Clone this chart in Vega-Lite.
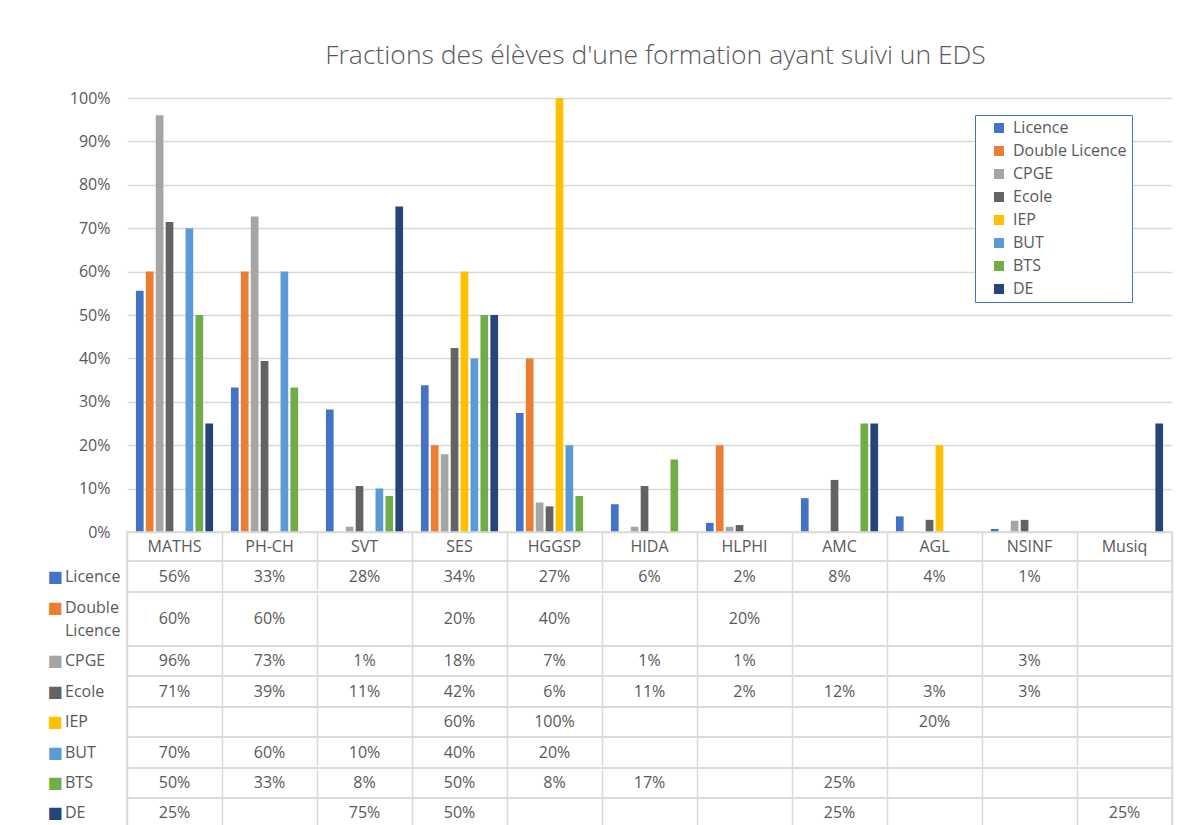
{
  "$schema": "https://vega.github.io/schema/vega-lite/v6.json",
  "padding": {"left": 42, "top": 42, "right": 10, "bottom": 0},
  "columns": 2,
  "spacing": 0,
  "bounds": "flush",
  "resolve": {"legend": {"color": "independent"}},
  "config": {
    "font": "Open Sans",
    "view": {"stroke": "#D9D9D9", "strokeWidth": 1.5},
    "text": {"fontSize": 16, "color": "#595959", "font": "Open Sans"},
    "axis": {"labelFont": "Open Sans", "labelFontSize": 16, "labelColor": "#595959"}
  },
  "datasets": {
    "d": [
      {"cat": "MATHS", "series": "Licence", "value": 0.556},
      {"cat": "MATHS", "series": "Double Licence", "value": 0.60},
      {"cat": "MATHS", "series": "CPGE", "value": 0.96},
      {"cat": "MATHS", "series": "Ecole", "value": 0.714},
      {"cat": "MATHS", "series": "BUT", "value": 0.70},
      {"cat": "MATHS", "series": "BTS", "value": 0.50},
      {"cat": "MATHS", "series": "DE", "value": 0.25},
      {"cat": "PH-CH", "series": "Licence", "value": 0.333},
      {"cat": "PH-CH", "series": "Double Licence", "value": 0.60},
      {"cat": "PH-CH", "series": "CPGE", "value": 0.727},
      {"cat": "PH-CH", "series": "Ecole", "value": 0.394},
      {"cat": "PH-CH", "series": "BUT", "value": 0.60},
      {"cat": "PH-CH", "series": "BTS", "value": 0.333},
      {"cat": "SVT", "series": "Licence", "value": 0.282},
      {"cat": "SVT", "series": "CPGE", "value": 0.012},
      {"cat": "SVT", "series": "Ecole", "value": 0.106},
      {"cat": "SVT", "series": "BUT", "value": 0.10},
      {"cat": "SVT", "series": "BTS", "value": 0.083},
      {"cat": "SVT", "series": "DE", "value": 0.75},
      {"cat": "SES", "series": "Licence", "value": 0.338},
      {"cat": "SES", "series": "Double Licence", "value": 0.20},
      {"cat": "SES", "series": "CPGE", "value": 0.179},
      {"cat": "SES", "series": "Ecole", "value": 0.424},
      {"cat": "SES", "series": "IEP", "value": 0.60},
      {"cat": "SES", "series": "BUT", "value": 0.40},
      {"cat": "SES", "series": "BTS", "value": 0.50},
      {"cat": "SES", "series": "DE", "value": 0.50},
      {"cat": "HGGSP", "series": "Licence", "value": 0.274},
      {"cat": "HGGSP", "series": "Double Licence", "value": 0.40},
      {"cat": "HGGSP", "series": "CPGE", "value": 0.068},
      {"cat": "HGGSP", "series": "Ecole", "value": 0.059},
      {"cat": "HGGSP", "series": "IEP", "value": 1.0},
      {"cat": "HGGSP", "series": "BUT", "value": 0.20},
      {"cat": "HGGSP", "series": "BTS", "value": 0.083},
      {"cat": "HIDA", "series": "Licence", "value": 0.064},
      {"cat": "HIDA", "series": "CPGE", "value": 0.012},
      {"cat": "HIDA", "series": "Ecole", "value": 0.106},
      {"cat": "HIDA", "series": "BTS", "value": 0.167},
      {"cat": "HLPHI", "series": "Licence", "value": 0.021},
      {"cat": "HLPHI", "series": "Double Licence", "value": 0.20},
      {"cat": "HLPHI", "series": "CPGE", "value": 0.012},
      {"cat": "HLPHI", "series": "Ecole", "value": 0.016},
      {"cat": "AMC", "series": "Licence", "value": 0.078},
      {"cat": "AMC", "series": "Ecole", "value": 0.12},
      {"cat": "AMC", "series": "BTS", "value": 0.25},
      {"cat": "AMC", "series": "DE", "value": 0.25},
      {"cat": "AGL", "series": "Licence", "value": 0.036},
      {"cat": "AGL", "series": "Ecole", "value": 0.028},
      {"cat": "AGL", "series": "IEP", "value": 0.20},
      {"cat": "NSINF", "series": "Licence", "value": 0.007},
      {"cat": "NSINF", "series": "CPGE", "value": 0.026},
      {"cat": "NSINF", "series": "Ecole", "value": 0.028},
      {"cat": "Musiq", "series": "DE", "value": 0.25}
    ]
  },
  "concat": [
    {"width": 85, "height": 1, "view": {"stroke": null}, "data": {"name": "d"}, "transform": [{"filter": "false"}], "mark": {"type": "text"}, "encoding": {"text": {"value": ""}}},
    {
      "width": 1045, "height": 434,
      "view": {"stroke": null},
      "title": {"text": "Fractions des élèves d'une formation ayant suivi un EDS", "fontSize": 26.5, "font": "Open Sans", "fontWeight": 300, "color": "#595959", "anchor": "middle", "frame": "group", "offset": 21, "dx": 6},
      "data": {"name": "d"},
      "mark": {"type": "bar"},
      "encoding": {
        "x": {"field": "cat", "type": "nominal", "scale": {"domain": ["MATHS","PH-CH","SVT","SES","HGGSP","HIDA","HLPHI","AMC","AGL","NSINF","Musiq"], "paddingInner": 0, "paddingOuter": 0}, "axis": null},
        "xOffset": {"field": "series", "type": "nominal", "scale": {"domain": ["Licence","Double Licence","CPGE","Ecole","IEP","BUT","BTS","DE"], "paddingInner": 0.225, "paddingOuter": 0.9}},
        "y": {"field": "value", "type": "quantitative", "scale": {"domain": [0, 1], "nice": false}, "axis": {"title": null, "values": [0,0.1,0.2,0.3,0.4,0.5,0.6,0.7,0.8,0.9,1], "format": ".0%", "domain": false, "ticks": false, "labelPadding": 17, "grid": true, "gridColor": "#D9D9D9", "gridWidth": 1.5}},
        "color": {"field": "series", "type": "nominal",
          "scale": {"domain": ["Licence","Double Licence","CPGE","Ecole","IEP","BUT","BTS","DE"], "range": ["#4472C4","#ED7D31","#A5A5A5","#636363","#FFC000","#5B9BD5","#70AD47","#264478"]},
          "legend": {"orient": "none", "legendX": 848, "legendY": 17, "title": null, "strokeColor": "#4472C4", "fillColor": "white", "padding": 5, "symbolType": "square", "symbolSize": 100, "symbolStrokeWidth": 0, "symbolOffset": 11, "labelOffset": 6, "labelFont": "Open Sans", "labelFontSize": 16, "labelColor": "#595959", "rowPadding": 7, "labelLimit": 200}
        }
      }
    },
    {"width": 85, "height": 1, "view": {"stroke": null}, "data": {"name": "d"}, "transform": [{"filter": "false"}], "mark": {"type": "text"}, "encoding": {"text": {"value": ""}}},
    {
      "width": 1045, "height": 29,
      "data": {"name": "d"},
      "transform": [{"aggregate": [{"op": "count", "as": "n"}], "groupby": ["cat"]}],
      "mark": {"type": "text"},
      "encoding": {
        "x": {"field": "cat", "type": "nominal", "scale": {"domain": ["MATHS","PH-CH","SVT","SES","HGGSP","HIDA","HLPHI","AMC","AGL","NSINF","Musiq"], "paddingInner": 0, "paddingOuter": 0}, "axis": {"grid": true, "tickBand": "extent", "labels": false, "ticks": false, "domain": false, "title": null, "gridColor": "#D9D9D9", "gridWidth": 1.5}},
        "text": {"field": "cat", "type": "nominal"}
      }
    },
    {
      "width": 85, "height": 31, "data": {"name": "d"},
      "transform": [{"filter": "datum.series === 'Licence'"}, {"aggregate": [{"op": "count", "as": "n"}], "groupby": ["series"]}],
      "layer": [
        {"mark": {"type": "text", "align": "center", "dx": -29.5, "font": "DejaVu Sans", "fontSize": 16}, "encoding": {"text": {"value": "■"}, "color": {"field": "series", "type": "nominal", "scale": {"domain": ["Licence","Double Licence","CPGE","Ecole","IEP","BUT","BTS","DE"], "range": ["#4472C4","#ED7D31","#A5A5A5","#636363","#FFC000","#5B9BD5","#70AD47","#264478"]}, "legend": null}}},
        {"mark": {"type": "text", "align": "left", "dx": -19.5}, "encoding": {"text": {"field": "series", "type": "nominal"}}}
      ]
    },
    {
      "width": 1045, "height": 31, "data": {"name": "d"},
      "transform": [{"filter": "datum.series === 'Licence'"}],
      "mark": {"type": "text"},
      "encoding": {
        "x": {"field": "cat", "type": "nominal", "scale": {"domain": ["MATHS","PH-CH","SVT","SES","HGGSP","HIDA","HLPHI","AMC","AGL","NSINF","Musiq"], "paddingInner": 0, "paddingOuter": 0}, "axis": {"grid": true, "tickBand": "extent", "labels": false, "ticks": false, "domain": false, "title": null, "gridColor": "#D9D9D9", "gridWidth": 1.5}},
        "text": {"field": "value", "type": "quantitative", "format": ".0%"}
      }
    },
    {
      "width": 85, "height": 54, "data": {"name": "d"},
      "transform": [{"filter": "datum.series === 'Double Licence'"}, {"aggregate": [{"op": "count", "as": "n"}], "groupby": ["series"]}],
      "layer": [
        {"mark": {"type": "text", "align": "center", "dx": -29.5, "dy": -11.5, "font": "DejaVu Sans", "fontSize": 16}, "encoding": {"text": {"value": "■"}, "color": {"field": "series", "type": "nominal", "scale": {"domain": ["Licence","Double Licence","CPGE","Ecole","IEP","BUT","BTS","DE"], "range": ["#4472C4","#ED7D31","#A5A5A5","#636363","#FFC000","#5B9BD5","#70AD47","#264478"]}, "legend": null}}},
        {"mark": {"type": "text", "align": "left", "dx": -19.5, "dy": -11.5, "lineBreak": " ", "lineHeight": 23}, "encoding": {"text": {"field": "series", "type": "nominal"}}}
      ]
    },
    {
      "width": 1045, "height": 54, "data": {"name": "d"},
      "transform": [{"filter": "datum.series === 'Double Licence'"}],
      "mark": {"type": "text"},
      "encoding": {
        "x": {"field": "cat", "type": "nominal", "scale": {"domain": ["MATHS","PH-CH","SVT","SES","HGGSP","HIDA","HLPHI","AMC","AGL","NSINF","Musiq"], "paddingInner": 0, "paddingOuter": 0}, "axis": {"grid": true, "tickBand": "extent", "labels": false, "ticks": false, "domain": false, "title": null, "gridColor": "#D9D9D9", "gridWidth": 1.5}},
        "text": {"field": "value", "type": "quantitative", "format": ".0%"}
      }
    },
    {
      "width": 85, "height": 30, "data": {"name": "d"},
      "transform": [{"filter": "datum.series === 'CPGE'"}, {"aggregate": [{"op": "count", "as": "n"}], "groupby": ["series"]}],
      "layer": [
        {"mark": {"type": "text", "align": "center", "dx": -29.5, "font": "DejaVu Sans", "fontSize": 16}, "encoding": {"text": {"value": "■"}, "color": {"field": "series", "type": "nominal", "scale": {"domain": ["Licence","Double Licence","CPGE","Ecole","IEP","BUT","BTS","DE"], "range": ["#4472C4","#ED7D31","#A5A5A5","#636363","#FFC000","#5B9BD5","#70AD47","#264478"]}, "legend": null}}},
        {"mark": {"type": "text", "align": "left", "dx": -19.5}, "encoding": {"text": {"field": "series", "type": "nominal"}}}
      ]
    },
    {
      "width": 1045, "height": 30, "data": {"name": "d"},
      "transform": [{"filter": "datum.series === 'CPGE'"}],
      "mark": {"type": "text"},
      "encoding": {
        "x": {"field": "cat", "type": "nominal", "scale": {"domain": ["MATHS","PH-CH","SVT","SES","HGGSP","HIDA","HLPHI","AMC","AGL","NSINF","Musiq"], "paddingInner": 0, "paddingOuter": 0}, "axis": {"grid": true, "tickBand": "extent", "labels": false, "ticks": false, "domain": false, "title": null, "gridColor": "#D9D9D9", "gridWidth": 1.5}},
        "text": {"field": "value", "type": "quantitative", "format": ".0%"}
      }
    },
    {
      "width": 85, "height": 31, "data": {"name": "d"},
      "transform": [{"filter": "datum.series === 'Ecole'"}, {"aggregate": [{"op": "count", "as": "n"}], "groupby": ["series"]}],
      "layer": [
        {"mark": {"type": "text", "align": "center", "dx": -29.5, "font": "DejaVu Sans", "fontSize": 16}, "encoding": {"text": {"value": "■"}, "color": {"field": "series", "type": "nominal", "scale": {"domain": ["Licence","Double Licence","CPGE","Ecole","IEP","BUT","BTS","DE"], "range": ["#4472C4","#ED7D31","#A5A5A5","#636363","#FFC000","#5B9BD5","#70AD47","#264478"]}, "legend": null}}},
        {"mark": {"type": "text", "align": "left", "dx": -19.5}, "encoding": {"text": {"field": "series", "type": "nominal"}}}
      ]
    },
    {
      "width": 1045, "height": 31, "data": {"name": "d"},
      "transform": [{"filter": "datum.series === 'Ecole'"}],
      "mark": {"type": "text"},
      "encoding": {
        "x": {"field": "cat", "type": "nominal", "scale": {"domain": ["MATHS","PH-CH","SVT","SES","HGGSP","HIDA","HLPHI","AMC","AGL","NSINF","Musiq"], "paddingInner": 0, "paddingOuter": 0}, "axis": {"grid": true, "tickBand": "extent", "labels": false, "ticks": false, "domain": false, "title": null, "gridColor": "#D9D9D9", "gridWidth": 1.5}},
        "text": {"field": "value", "type": "quantitative", "format": ".0%"}
      }
    },
    {
      "width": 85, "height": 30, "data": {"name": "d"},
      "transform": [{"filter": "datum.series === 'IEP'"}, {"aggregate": [{"op": "count", "as": "n"}], "groupby": ["series"]}],
      "layer": [
        {"mark": {"type": "text", "align": "center", "dx": -29.5, "font": "DejaVu Sans", "fontSize": 16}, "encoding": {"text": {"value": "■"}, "color": {"field": "series", "type": "nominal", "scale": {"domain": ["Licence","Double Licence","CPGE","Ecole","IEP","BUT","BTS","DE"], "range": ["#4472C4","#ED7D31","#A5A5A5","#636363","#FFC000","#5B9BD5","#70AD47","#264478"]}, "legend": null}}},
        {"mark": {"type": "text", "align": "left", "dx": -19.5}, "encoding": {"text": {"field": "series", "type": "nominal"}}}
      ]
    },
    {
      "width": 1045, "height": 30, "data": {"name": "d"},
      "transform": [{"filter": "datum.series === 'IEP'"}],
      "mark": {"type": "text"},
      "encoding": {
        "x": {"field": "cat", "type": "nominal", "scale": {"domain": ["MATHS","PH-CH","SVT","SES","HGGSP","HIDA","HLPHI","AMC","AGL","NSINF","Musiq"], "paddingInner": 0, "paddingOuter": 0}, "axis": {"grid": true, "tickBand": "extent", "labels": false, "ticks": false, "domain": false, "title": null, "gridColor": "#D9D9D9", "gridWidth": 1.5}},
        "text": {"field": "value", "type": "quantitative", "format": ".0%"}
      }
    },
    {
      "width": 85, "height": 31, "data": {"name": "d"},
      "transform": [{"filter": "datum.series === 'BUT'"}, {"aggregate": [{"op": "count", "as": "n"}], "groupby": ["series"]}],
      "layer": [
        {"mark": {"type": "text", "align": "center", "dx": -29.5, "font": "DejaVu Sans", "fontSize": 16}, "encoding": {"text": {"value": "■"}, "color": {"field": "series", "type": "nominal", "scale": {"domain": ["Licence","Double Licence","CPGE","Ecole","IEP","BUT","BTS","DE"], "range": ["#4472C4","#ED7D31","#A5A5A5","#636363","#FFC000","#5B9BD5","#70AD47","#264478"]}, "legend": null}}},
        {"mark": {"type": "text", "align": "left", "dx": -19.5}, "encoding": {"text": {"field": "series", "type": "nominal"}}}
      ]
    },
    {
      "width": 1045, "height": 31, "data": {"name": "d"},
      "transform": [{"filter": "datum.series === 'BUT'"}],
      "mark": {"type": "text"},
      "encoding": {
        "x": {"field": "cat", "type": "nominal", "scale": {"domain": ["MATHS","PH-CH","SVT","SES","HGGSP","HIDA","HLPHI","AMC","AGL","NSINF","Musiq"], "paddingInner": 0, "paddingOuter": 0}, "axis": {"grid": true, "tickBand": "extent", "labels": false, "ticks": false, "domain": false, "title": null, "gridColor": "#D9D9D9", "gridWidth": 1.5}},
        "text": {"field": "value", "type": "quantitative", "format": ".0%"}
      }
    },
    {
      "width": 85, "height": 30, "data": {"name": "d"},
      "transform": [{"filter": "datum.series === 'BTS'"}, {"aggregate": [{"op": "count", "as": "n"}], "groupby": ["series"]}],
      "layer": [
        {"mark": {"type": "text", "align": "center", "dx": -29.5, "font": "DejaVu Sans", "fontSize": 16}, "encoding": {"text": {"value": "■"}, "color": {"field": "series", "type": "nominal", "scale": {"domain": ["Licence","Double Licence","CPGE","Ecole","IEP","BUT","BTS","DE"], "range": ["#4472C4","#ED7D31","#A5A5A5","#636363","#FFC000","#5B9BD5","#70AD47","#264478"]}, "legend": null}}},
        {"mark": {"type": "text", "align": "left", "dx": -19.5}, "encoding": {"text": {"field": "series", "type": "nominal"}}}
      ]
    },
    {
      "width": 1045, "height": 30, "data": {"name": "d"},
      "transform": [{"filter": "datum.series === 'BTS'"}],
      "mark": {"type": "text"},
      "encoding": {
        "x": {"field": "cat", "type": "nominal", "scale": {"domain": ["MATHS","PH-CH","SVT","SES","HGGSP","HIDA","HLPHI","AMC","AGL","NSINF","Musiq"], "paddingInner": 0, "paddingOuter": 0}, "axis": {"grid": true, "tickBand": "extent", "labels": false, "ticks": false, "domain": false, "title": null, "gridColor": "#D9D9D9", "gridWidth": 1.5}},
        "text": {"field": "value", "type": "quantitative", "format": ".0%"}
      }
    },
    {
      "width": 85, "height": 30, "data": {"name": "d"},
      "transform": [{"filter": "datum.series === 'DE'"}, {"aggregate": [{"op": "count", "as": "n"}], "groupby": ["series"]}],
      "layer": [
        {"mark": {"type": "text", "align": "center", "dx": -29.5, "font": "DejaVu Sans", "fontSize": 16}, "encoding": {"text": {"value": "■"}, "color": {"field": "series", "type": "nominal", "scale": {"domain": ["Licence","Double Licence","CPGE","Ecole","IEP","BUT","BTS","DE"], "range": ["#4472C4","#ED7D31","#A5A5A5","#636363","#FFC000","#5B9BD5","#70AD47","#264478"]}, "legend": null}}},
        {"mark": {"type": "text", "align": "left", "dx": -19.5}, "encoding": {"text": {"field": "series", "type": "nominal"}}}
      ]
    },
    {
      "width": 1045, "height": 30, "data": {"name": "d"},
      "transform": [{"filter": "datum.series === 'DE'"}],
      "mark": {"type": "text"},
      "encoding": {
        "x": {"field": "cat", "type": "nominal", "scale": {"domain": ["MATHS","PH-CH","SVT","SES","HGGSP","HIDA","HLPHI","AMC","AGL","NSINF","Musiq"], "paddingInner": 0, "paddingOuter": 0}, "axis": {"grid": true, "tickBand": "extent", "labels": false, "ticks": false, "domain": false, "title": null, "gridColor": "#D9D9D9", "gridWidth": 1.5}},
        "text": {"field": "value", "type": "quantitative", "format": ".0%"}
      }
    }
  ]
}
